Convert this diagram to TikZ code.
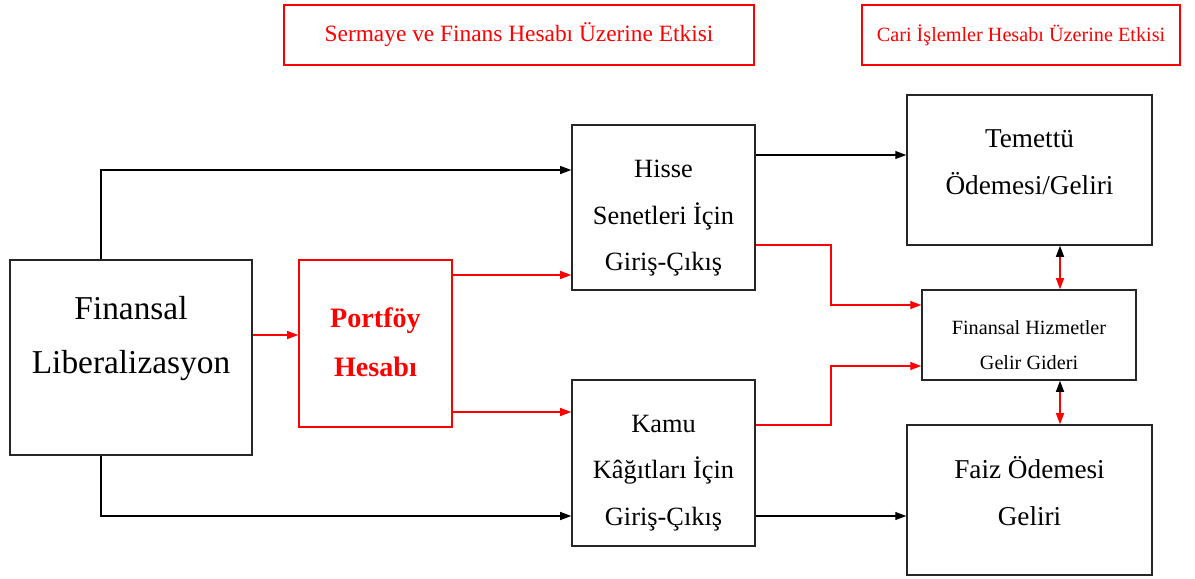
\documentclass[tikz,border=0pt]{standalone}
\usepackage{fontspec}
\setmainfont{Liberation Serif}
\usetikzlibrary{arrows.meta,calc}
\begin{document}
\begin{tikzpicture}[x=0.02cm,y=-0.02cm,
  box/.style={draw=black!85,line width=0.9pt,inner sep=0pt},
  rbox/.style={draw=red,line width=0.9pt,inner sep=0pt},
  txt/.style={align=center,inner sep=0pt},
  rtxt/.style={align=center,inner sep=0pt,text=red},
  blk/.style={draw=black,line width=0.6pt,-{Triangle[length=2.2mm,width=1.6mm]}},
  red/.style={draw=red,line width=0.7pt,-{Triangle[length=2.2mm,width=1.6mm]}},
  dbl/.style={draw=red,line width=0.8pt,{Triangle[length=2.2mm,width=1.6mm,black]}-{Triangle[length=2.2mm,width=1.6mm,red]}}
]
\useasboundingbox (0,0) rectangle (1195,578);
% header boxes
\node[rbox,minimum width=9.4cm,minimum height=1.2cm] (h1) at (519,35) {};
\node[rtxt,font=\fontsize{13.3}{16}\selectfont] (h1t) at (h1.center) {Sermaye ve Finans Hesabı Üzerine Etkisi};
\node[rbox,minimum width=6.36cm,minimum height=1.2cm] (h2) at (1021,35) {};
\node[rtxt,font=\fontsize{11.5}{14}\selectfont] (h2t) at (h2.center) {Cari İşlemler Hesabı Üzerine Etkisi};
% main boxes
\node[box,minimum width=4.84cm,minimum height=3.9cm] (lib) at (131,357.5) {};
\node[rbox,minimum width=3.06cm,minimum height=3.34cm] (port) at (375.5,343.5) {};
\node[box,minimum width=3.66cm,minimum height=3.3cm] (hisse) at (663.5,207.5) {};
\node[box,minimum width=3.66cm,minimum height=3.32cm] (kamu) at (663.5,463) {};
\node[box,minimum width=4.9cm,minimum height=3.0cm] (tem) at (1029.5,170) {};
\node[box,minimum width=4.28cm,minimum height=1.8cm] (fh) at (1029,335) {};
\node[box,minimum width=4.9cm,minimum height=3.0cm] (faiz) at (1029.5,500) {};
% texts
\node[txt,font=\fontsize{19}{31}\selectfont] (libt) at ($(lib.center)+(0,-19)$) {Finansal\\Liberalizasyon};
\node[rtxt,font=\fontsize{16}{28}\selectfont\bfseries] (portt) at ($(port.center)+(0,-1)$) {Portföy\\Hesabı};
\node[txt,font=\fontsize{15}{26.5}\selectfont] (hisset) at ($(hisse.center)+(0,11)$) {Hisse\\Senetleri İçin\\Giriş-Çıkış};
\node[txt,font=\fontsize{15}{26.5}\selectfont] (kamut) at ($(kamu.center)+(0,10)$) {Kamu\\Kâğıtları İçin\\Giriş-Çıkış};
\node[txt,font=\fontsize{15.5}{27}\selectfont] (temt) at ($(tem.center)+(0,-8)$) {Temettü\\Ödemesi/Geliri};
\node[txt,font=\fontsize{11.5}{20}\selectfont] (fht) at ($(fh.center)+(0,10)$) {Finansal Hizmetler\\Gelir Gideri};
\node[txt,font=\fontsize{15.5}{27}\selectfont] (faizt) at ($(faiz.center)+(0,-9)$) {Faiz Ödemesi\\Geliri};
% helper coordinates
\coordinate (xl) at (101,0);
\coordinate (xm) at (831,0);
\coordinate (xd) at (1060,0);
\coordinate (yh1) at (0,155);
\coordinate (yh2) at (0,245);
\coordinate (yk1) at (0,425);
\coordinate (yk2) at (0,516);
\coordinate (yp1) at (0,275);
\coordinate (yp2) at (0,412);
\coordinate (yf1) at (0,305);
\coordinate (yf2) at (0,366);
\coordinate (yt) at (0,170);
\coordinate (yl) at (0,335);
% black connectors
\draw[blk] (lib.north -| xl) |- (hisse.west |- yt);
\draw[blk] (lib.south -| xl) |- (kamu.west |- yk2);
\draw[blk] (hisse.east |- yh1) -- (tem.west |- yh1);
\draw[blk] (kamu.east |- yk2) -- (faiz.west |- yk2);
% red connectors
\draw[red] (lib.east |- yl) -- (port.west |- yl);
\draw[red] (port.east |- yp1) -- (hisse.west |- yp1);
\draw[red] (port.east |- yp2) -- (kamu.west |- yp2);
\draw[red] (hisse.east |- yh2) -| (xm |- yh2) |- (fh.west |- yf1);
\draw[red] (kamu.east |- yk1) -| (xm |- yk1) |- (fh.west |- yf2);
% double arrows
\draw[dbl] (tem.south -| xd) -- (fh.north -| xd);
\draw[dbl] (fh.south -| xd) -- (faiz.north -| xd);
\end{tikzpicture}
\end{document}
